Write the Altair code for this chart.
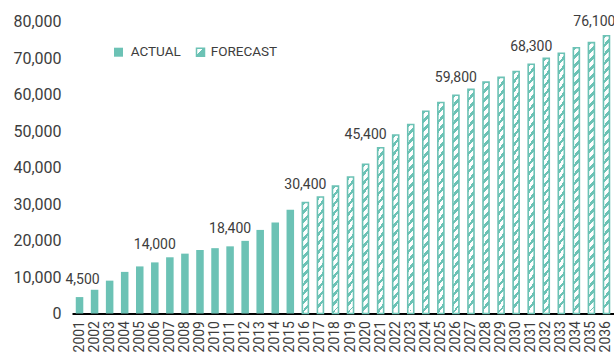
import altair as alt
import pandas as pd

# ---------------- data ----------------
years = [str(y) for y in range(2001, 2037)]
actual_years = years[:15]
forecast_years = years[15:]
actual_values = [4500, 6500, 9000, 11400, 12900, 14000, 15400, 16400, 17400,
                 17900, 18400, 19900, 22900, 24900, 28400]
forecast_values = [30400, 31900, 34900, 37400, 40900, 45400, 48900, 51800,
                   55400, 57800, 59800, 61400, 63400, 64700, 66300, 68300,
                   69900, 71300, 72800, 74200, 76100]
label_years = ["2001", "2006", "2011", "2016", "2020", "2026", "2031", "2036"]
label_values = [4500, 14000, 18400, 30400, 45400, 59800, 68300, 76100]
legend_names = ["ACTUAL", "FORECAST"]
y_ticks = [0, 10000, 20000, 30000, 40000, 50000, 60000, 70000, 80000]

# ---------------- style ----------------
TEAL = "#6cc2b5"
TEXT = "#3d3d3d"
FONT = "Roboto"
W, H = 542, 292
YMAX = 80000

df_actual = pd.DataFrame({"year": actual_years, "value": actual_values})
df_fc = pd.DataFrame({"year": forecast_years, "value": forecast_values})
df_lab = pd.DataFrame({"year": label_years, "value": label_values,
                       "text": [f"{v:,}" for v in label_values]})

x_enc = alt.X("year:N",
              scale=alt.Scale(domain=years, paddingInner=0.5, paddingOuter=0.25),
              axis=alt.Axis(title=None, labelAngle=-90, labelFontSize=14,
                            labelColor=TEXT, labelFont=FONT, ticks=False,
                            domainColor="#000000", domainWidth=2,
                            labelPadding=7, labelOverlap=False))
y_enc = alt.Y("value:Q",
              scale=alt.Scale(domain=[0, YMAX], nice=False, zero=True),
              axis=alt.Axis(title=None, values=y_ticks,
                            labelExpr="format(datum.value, ',')", grid=False,
                            domain=False, ticks=False, labelFontSize=16,
                            labelColor=TEXT, labelFont=FONT, labelPadding=11))


def hatch(value, rise=7.0, period=9.0, frac=0.42):
    """Diagonal stripe fill built as a hard-stop linear gradient."""
    h = value / YMAX * H
    dt = period / h
    stops = []
    k = 0
    while k * dt < 1.0:
        t0 = k * dt
        t1 = min(1.0, t0 + frac * dt)
        t2 = min(1.0, t0 + dt)
        stops += [alt.GradientStop(offset=t0, color=TEAL),
                  alt.GradientStop(offset=t1, color=TEAL),
                  alt.GradientStop(offset=t1, color="white"),
                  alt.GradientStop(offset=t2, color="white")]
        k += 1
    return alt.LinearGradient(gradient="linear", stops=stops,
                              x1=0, y1=0, x2=rise / h, y2=1)


actual_bars = alt.Chart(df_actual).mark_bar(color=TEAL).encode(x=x_enc, y=y_enc)

fc_layers = []
for yr, v in zip(forecast_years, forecast_values):
    fc_layers.append(
        alt.Chart(df_fc)
        .transform_filter(alt.datum.year == yr)
        .mark_bar(fill=hatch(v), stroke=TEAL, strokeWidth=1.6,
                  width=alt.RelativeBandSize(0.8))
        .encode(x=x_enc, y=y_enc)
    )


def label_layer(flt, **kw):
    opts = dict(baseline="alphabetic", dy=-13.5, fontSize=14, color=TEXT, font=FONT)
    opts.update(kw)
    return (alt.Chart(df_lab).transform_filter(flt).mark_text(**opts)
            .encode(x=x_enc, y=y_enc, text="text:N"))


lab_first = label_layer("datum.year == '2001'", dx=3)
lab_normal = label_layer("indexof(['2001','2020','2036'], datum.year) < 0")
lab_2020 = label_layer("datum.year == '2020'", dy=-8.5)
lab_last = label_layer("datum.year == '2036'", align="right", dx=9, dy=-10)

# ---------------- legend ----------------
leg_a = pd.DataFrame({"t": [legend_names[0]]})
leg_f = pd.DataFrame({"t": [legend_names[1]]})
swatch_a = alt.Chart(leg_a).mark_rect(fill=TEAL).encode(
    x=alt.value(42), x2=alt.value(51), y=alt.value(26.2), y2=alt.value(35.2))
text_a = alt.Chart(leg_a).mark_text(align="left", baseline="middle", fontSize=13.5,
                                    color=TEXT, font=FONT).encode(
    x=alt.value(58.7), y=alt.value(30.7), text="t:N")
diag = alt.LinearGradient(gradient="linear", x1=0, y1=0, x2=1, y2=1,
                          stops=[alt.GradientStop(offset=0, color="white"),
                                 alt.GradientStop(offset=0.45, color="white"),
                                 alt.GradientStop(offset=0.45, color=TEAL),
                                 alt.GradientStop(offset=1, color=TEAL)])
swatch_f = alt.Chart(leg_f).mark_rect(fill=diag, stroke=TEAL, strokeWidth=1.5).encode(
    x=alt.value(124.5), x2=alt.value(132.5), y=alt.value(26.7), y2=alt.value(34.7))
text_f = alt.Chart(leg_f).mark_text(align="left", baseline="middle", fontSize=13.5,
                                    color=TEXT, font=FONT).encode(
    x=alt.value(138.7), y=alt.value(30.7), text="t:N")

chart = (
    alt.layer(actual_bars, *fc_layers, lab_first, lab_normal, lab_2020, lab_last,
              swatch_a, text_a, swatch_f, text_f)
    .properties(width=W, height=H,
                padding={"left": 72, "top": 21.5, "right": 0, "bottom": 40.5},
                autosize=alt.AutoSizeParams(type="none"))
    .configure(font=FONT, background="white")
    .configure_view(strokeWidth=0)
)

chart.save("out.html", embed_options={"renderer": "svg", "actions": False})
